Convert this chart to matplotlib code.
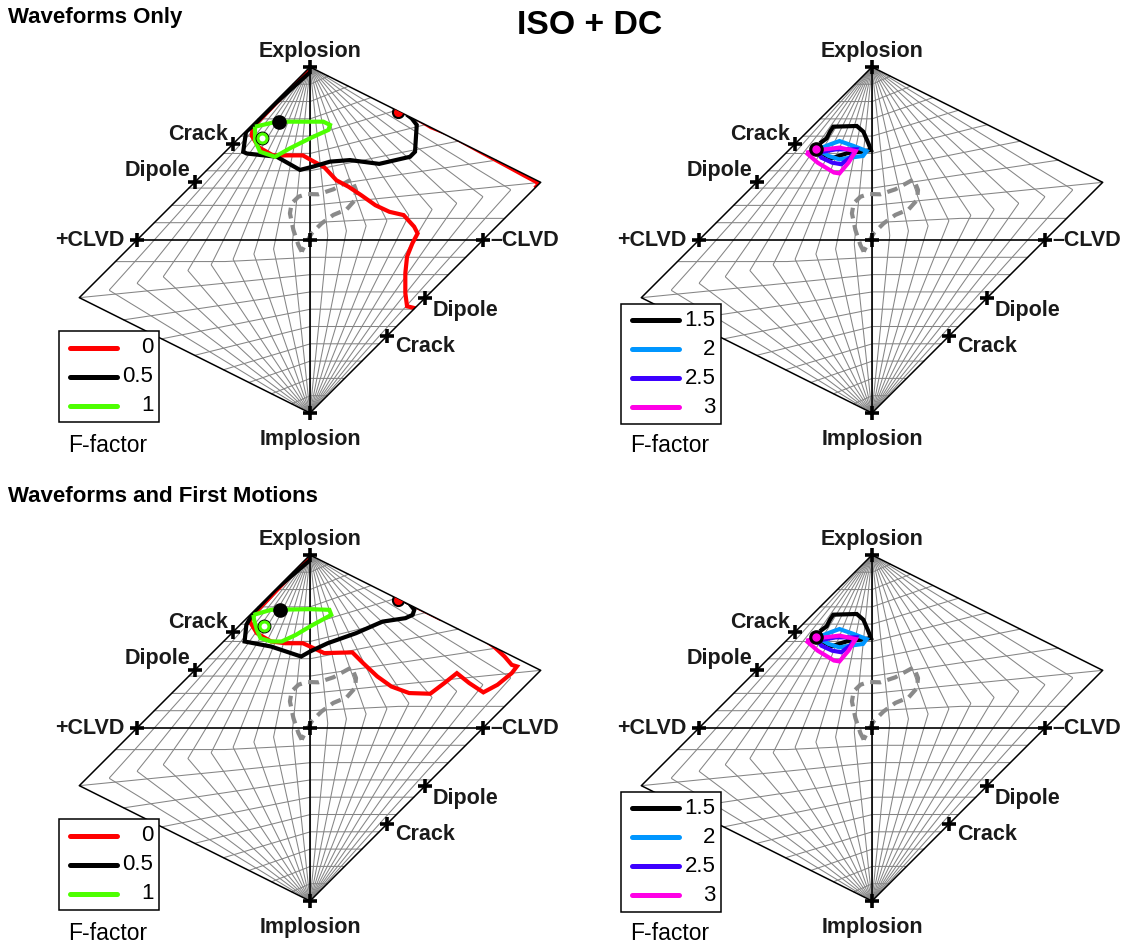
import numpy as np
import matplotlib
matplotlib.use('Agg')
import matplotlib.pyplot as plt
from matplotlib.patches import Polygon, Rectangle

plt.rcParams['font.family'] = ['Liberation Sans', 'DejaVu Sans']

# ------------------------------------------------------------------ data
main_title = "ISO + DC"
row_titles = ["Waveforms Only", "Waveforms and First Motions"]
legend_title = "F-factor"

left_f_labels = ["0", "0.5", "1"]
left_f_colors = ["#ff0000", "#000000", "#4dff00"]
right_f_labels = ["1.5", "2", "2.5", "3"]
right_f_colors = ["#000000", "#0096ff", "#3c00ff", "#ff00e6"]

# reference source-type points (u, v) in Hudson plot
point_names = ["Explosion", "Implosion", "+CLVD", "\u2013CLVD", "Crack", "Dipole", "Dipole", "Crack", ""]
point_u = [0.0, 0.0, -1.0, 1.0, -4/9, -2/3, 2/3, 4/9, 0.0]
point_v = [1.0, -1.0, 0.0, 0.0, 5/9, 1/3, -1/3, -5/9, 0.0]

# grid values
grid_T = [-0.9, -0.8, -0.7, -0.6, -0.5, -0.4, -0.3, -0.2, -0.1, 0.0,
          0.1, 0.2, 0.3, 0.4, 0.5, 0.6, 0.7, 0.8, 0.9]
grid_k = [-0.9, -0.8, -0.7, -0.6, -0.5, -0.4, -0.3, -0.2, -0.1,
          0.1, 0.2, 0.3, 0.4, 0.5, 0.6, 0.7, 0.8, 0.9]

# gray dashed reference contour (u, v)
ref_u = [-0.048, -0.067, -0.096, -0.116, -0.106, -0.067, -0.019, 0.048, 0.135, 0.241,
         0.266, 0.260, 0.212, 0.135, 0.067, 0.010, -0.029, -0.048]
ref_v = [-0.067, -0.029, 0.058, 0.154, 0.212, 0.250, 0.266, 0.264, 0.293, 0.351,
         0.289, 0.231, 0.177, 0.145, 0.096, 0.039, -0.029, -0.067]

# ---- Waveforms only, F = 0, 0.5, 1
wo_red_u = [-0.01, -0.15, -0.28, -0.33, -0.337, -0.296, -0.214, -0.133, -0.041, 0.010, 0.082,
            0.153, 0.224, 0.296, 0.378, 0.459, 0.541, 0.602, 0.622, 0.592, 0.561, 0.551,
            0.551, 0.561, 0.610]
wo_red_v = [0.985, 0.84, 0.705, 0.655, 0.603, 0.536, 0.489, 0.489, 0.489, 0.460, 0.421,
            0.345, 0.307, 0.259, 0.201, 0.163, 0.144, 0.077, 0.038, -0.019, -0.096, -0.192,
            -0.307, -0.383, -0.395]
wo_red2_u = [0.62, 0.70, 0.80, 0.98, 1.13, 1.24, 1.31, 1.32, 1.30]
wo_red2_v = [0.70, 0.652, 0.612, 0.513, 0.432, 0.372, 0.335, 0.32, 0.30]
wo_black_u = [0.0, -0.2, -0.33, -0.37, -0.386, -0.366, -0.192, -0.058, 0.017, 0.116,
              0.231, 0.40, 0.578, 0.607, 0.617, 0.588, 0.559]
wo_black_v = [0.97, 0.79, 0.66, 0.625, 0.51, 0.50, 0.481, 0.405, 0.424, 0.453,
              0.462, 0.44, 0.481, 0.51, 0.665, 0.703, 0.725]
wo_green_u = [-0.318, -0.192, -0.058, 0.077, 0.116, 0.106, 0.0, -0.116, -0.202, -0.289, -0.318, -0.318]
wo_green_v = [0.655, 0.684, 0.684, 0.684, 0.665, 0.636, 0.588, 0.530, 0.481, 0.510, 0.578, 0.655]
wo_best_u = [-0.177, -0.279, 0.511]   # black (F=0.5), green (F=1), red (F=0)
wo_best_v = [0.680, 0.588, 0.742]

# ---- Waveforms and first motions, F = 0, 0.5, 1
fm_red_u = [-0.01, -0.15, -0.29, -0.34, -0.348, -0.307, -0.225, -0.143, -0.041, 0.020, 0.082,
            0.245, 0.307, 0.389, 0.470, 0.573, 0.695, 0.777, 0.849, 0.920, 1.002, 1.084,
            1.166, 1.196, 1.166, 1.125, 1.063, 1.010]
fm_red_v = [0.985, 0.84, 0.695, 0.645, 0.615, 0.548, 0.500, 0.490, 0.490, 0.462, 0.433,
            0.437, 0.375, 0.298, 0.240, 0.202, 0.198, 0.260, 0.317, 0.260, 0.206, 0.250,
            0.317, 0.356, 0.365, 0.413, 0.471, 0.510]
fm_red2_u = [0.56, 0.66, 0.76]
fm_red2_v = [0.728, 0.678, 0.628]
fm_black_u = [0.0, -0.2, -0.33, -0.368, -0.378, -0.225, -0.051, 0.0, 0.102, 0.266,
              0.419, 0.552, 0.593, 0.603, 0.573, 0.552]
fm_black_v = [0.97, 0.80, 0.665, 0.596, 0.500, 0.471, 0.413, 0.442, 0.490, 0.548,
              0.615, 0.635, 0.654, 0.683, 0.721, 0.731]
fm_green_u = [-0.327, -0.225, 0.0, 0.112, 0.123, 0.0, -0.082, -0.164, -0.225, -0.286, -0.307, -0.323, -0.327]
fm_green_v = [0.654, 0.683, 0.687, 0.683, 0.654, 0.587, 0.538, 0.500, 0.500, 0.519, 0.567, 0.625, 0.654]
fm_best_u = [-0.174, -0.266, 0.511]
fm_best_v = [0.683, 0.590, 0.740]

# ---- right panels, F = 1.5, 2, 2.5, 3
r_f15_u = [-0.301, -0.262, -0.243, -0.224, -0.088, -0.050, -0.021, -0.006, -0.069, -0.146,
           -0.204, -0.233, -0.272, -0.310, -0.301]
r_f15_v = [0.559, 0.588, 0.626, 0.655, 0.659, 0.626, 0.559, 0.520, 0.510, 0.501,
           0.482, 0.472, 0.491, 0.520, 0.559]
r_f20_u = [-0.314, -0.241, -0.188, -0.105, -0.031, -0.052, -0.126, -0.188, -0.251, -0.314]
r_f20_v = [0.524, 0.553, 0.572, 0.543, 0.514, 0.486, 0.476, 0.466, 0.486, 0.524]
r_f25_u = [-0.314, -0.209, -0.094, -0.126, -0.178, -0.230, -0.293, -0.314]
r_f25_v = [0.505, 0.524, 0.524, 0.476, 0.438, 0.447, 0.476, 0.505]
r_f30_u = [-0.381, -0.314, -0.220, -0.188, -0.136, -0.094, -0.188, -0.272, -0.381]
r_f30_v = [0.505, 0.447, 0.390, 0.385, 0.447, 0.514, 0.534, 0.524, 0.505]
r_best_u = [-0.322]
r_best_v = [0.528]

# ------------------------------------------------------------------ helpers
def hudson_uv(T, k):
    T = np.asarray(T, float)
    k = np.asarray(k, float)
    tau = T * (1 - np.abs(k))
    u = tau.copy()
    v = k.copy()
    q1 = (tau > 0) & (k > 0)
    a1 = q1 & (tau < 4 * k)
    b1 = q1 & ~(tau < 4 * k)
    u[a1] = tau[a1] / (1 - tau[a1] / 2); v[a1] = k[a1] / (1 - tau[a1] / 2)
    u[b1] = tau[b1] / (1 - 2 * k[b1]);   v[b1] = k[b1] / (1 - 2 * k[b1])
    q3 = (tau < 0) & (k < 0)
    b3 = q3 & (tau < 4 * k)
    a3 = q3 & ~(tau < 4 * k)
    u[b3] = tau[b3] / (1 + 2 * k[b3]);   v[b3] = k[b3] / (1 + 2 * k[b3])
    u[a3] = tau[a3] / (1 + tau[a3] / 2); v[a3] = k[a3] / (1 + tau[a3] / 2)
    return u, v


W, H, DPI = 1134, 946, 100
S = 173.0  # pixels per unit
XL, XR, YB, YT = -1.8, 1.6, -1.3, 1.25

fig = plt.figure(figsize=(W / DPI, H / DPI), dpi=DPI)
fig.patch.set_facecolor('white')


def make_axes(cx, cy):
    left = (cx + XL * S) / W
    bottom = (H - cy + YB * S) / H
    ax = fig.add_axes([left, bottom, (XR - XL) * S / W, (YT - YB) * S / H])
    ax.set_xlim(XL, XR)
    ax.set_ylim(YB, YT)
    ax.axis('off')
    ax.patch.set_alpha(0)
    return ax


def draw_base(ax):
    kk = np.linspace(-1, 1, 801)
    tt = np.linspace(-1, 1, 801)
    for T in grid_T:
        u, v = hudson_uv(np.full_like(kk, T), kk)
        ax.plot(u, v, color='#858585', lw=0.75, zorder=1)
    for k in grid_k:
        u, v = hudson_uv(tt, np.full_like(tt, k))
        ax.plot(u, v, color='#858585', lw=0.75, zorder=1)
    edge = []
    for T in (1.0, -1.0):
        u, v = hudson_uv(np.full_like(kk, T), kk)
        edge.append((u, v))
    ub, vb = hudson_uv(np.array([0.0, 1.0, 0.0, -1.0]), np.array([1.0, 0.2, -1.0, -0.2]))
    clip = Polygon(np.column_stack([ub, vb]), closed=True, transform=ax.transData,
                   facecolor='none', edgecolor='none')
    ax.add_patch(clip)
    ax.plot([-1, 1], [0, 0], color='black', lw=1.2, zorder=2)
    ax.plot([0, 0], [-1, 1], color='black', lw=1.2, zorder=2)
    l, = ax.plot(ref_u, ref_v, color='#8a8a8a', lw=3.0, dashes=(2.6, 1.6), zorder=3)
    l.set_clip_path(clip)
    return clip, edge


def draw_frame(ax, edge):
    for u, v in edge:
        ax.plot(u, v, color='black', lw=1.1, zorder=6)
    ax.plot(point_u, point_v, linestyle='none', marker='+', ms=10, mew=2.6,
            color='black', zorder=9, clip_on=False)
    fs = 15.5
    kw = dict(fontsize=fs, fontweight='bold', color='#1a1a1a', clip_on=False, zorder=10)
    ax.text(0, 1.087, point_names[0], ha='center', va='center', **kw)
    ax.text(0, -1.156, point_names[1], ha='center', va='center', **kw)
    ax.text(-1.075, 0, point_names[2], ha='right', va='center', **kw)
    ax.text(1.04, 0, point_names[3], ha='left', va='center', **kw)
    ax.text(-0.474, 0.607, point_names[4], ha='right', va='center', **kw)
    ax.text(-0.694, 0.399, point_names[5], ha='right', va='center', **kw)
    ax.text(0.711, -0.405, point_names[6], ha='left', va='center', **kw)
    ax.text(0.491, -0.613, point_names[7], ha='left', va='center', **kw)


def draw_legend(ax, labels, colors):
    n = len(labels)
    top = -0.527 if n == 3 else -0.369
    step = 0.167
    rows = [top - 0.096 - i * step for i in range(n)]
    bottom = rows[-1] - 0.096
    ax.add_patch(Rectangle((-1.449, bottom), 0.578, top - bottom, facecolor='white',
                           edgecolor='black', lw=1.1, zorder=11, clip_on=False))
    for r, lab, c in zip(rows, labels, colors):
        ax.plot([-1.385, -1.115], [r, r], color=c, lw=3.6, solid_capstyle='round',
                zorder=12, clip_on=False)
        ax.text(-0.905, r, lab, ha='right', va='center', fontsize=16, zorder=12,
                clip_on=False)
    ax.text(-1.168, -1.19, legend_title, ha='center', va='center', fontsize=16.5,
            clip_on=False)


def line(ax, clip, u, v, c, lw=3.0, z=4):
    l, = ax.plot(u, v, color=c, lw=lw, zorder=z, solid_joinstyle='miter',
                 solid_capstyle='butt')
    l.set_clip_path(clip)


def draw_left(ax, red, red2, black, green, best):
    clip, edge = draw_base(ax)
    line(ax, clip, red[0], red[1], left_f_colors[0])
    line(ax, clip, red2[0], red2[1], left_f_colors[0])
    line(ax, clip, black[0], black[1], left_f_colors[1])
    line(ax, clip, green[0], green[1], left_f_colors[2])
    bu, bv = best
    m, = ax.plot(bu[0], bv[0], 'o', ms=9.5, color='black', zorder=7)
    m.set_clip_path(clip)
    m, = ax.plot(bu[1], bv[1], 'o', ms=9, mfc='black', mec='black', zorder=7)
    m.set_clip_path(clip)
    m, = ax.plot(bu[1], bv[1], 'o', ms=6.5, mfc='white', mec=left_f_colors[2], mew=2.2, zorder=7)
    m.set_clip_path(clip)
    m, = ax.plot(bu[2], bv[2], 'o', ms=8, mfc='#ff0000', mec='black', mew=1.5, zorder=7)
    m.set_clip_path(clip)
    draw_frame(ax, edge)
    draw_legend(ax, left_f_labels, left_f_colors)


def draw_right(ax):
    clip, edge = draw_base(ax)
    line(ax, clip, r_f15_u, r_f15_v, right_f_colors[0])
    line(ax, clip, r_f20_u, r_f20_v, right_f_colors[1])
    line(ax, clip, r_f25_u, r_f25_v, right_f_colors[2])
    line(ax, clip, r_f30_u, r_f30_v, right_f_colors[3])
    m, = ax.plot(r_best_u, r_best_v, 'o', ms=9.5, color='black', zorder=7)
    m.set_clip_path(clip)
    m, = ax.plot(r_best_u, r_best_v, 'o', ms=5, color=right_f_colors[3], zorder=8)
    m.set_clip_path(clip)
    draw_frame(ax, edge)
    draw_legend(ax, right_f_labels, right_f_colors)


ax1 = make_axes(310, 240)
draw_left(ax1, (wo_red_u, wo_red_v), (wo_red2_u, wo_red2_v), (wo_black_u, wo_black_v),
          (wo_green_u, wo_green_v), (wo_best_u, wo_best_v))
ax2 = make_axes(872, 240)
draw_right(ax2)
ax3 = make_axes(310, 728)
draw_left(ax3, (fm_red_u, fm_red_v), (fm_red2_u, fm_red2_v), (fm_black_u, fm_black_v),
          (fm_green_u, fm_green_v), (fm_best_u, fm_best_v))
ax4 = make_axes(872, 728)
draw_right(ax4)

fig.text(590 / W, 1 - 25 / H, main_title, ha='center', va='center', fontsize=24.3,
         fontweight='bold')
fig.text(8 / W, 1 - 18 / H, row_titles[0], ha='left', va='center', fontsize=16,
         fontweight='bold')
fig.text(8 / W, 1 - 497 / H, row_titles[1], ha='left', va='center', fontsize=16,
         fontweight='bold')

fig.savefig('out.png', dpi=DPI, facecolor='white')
